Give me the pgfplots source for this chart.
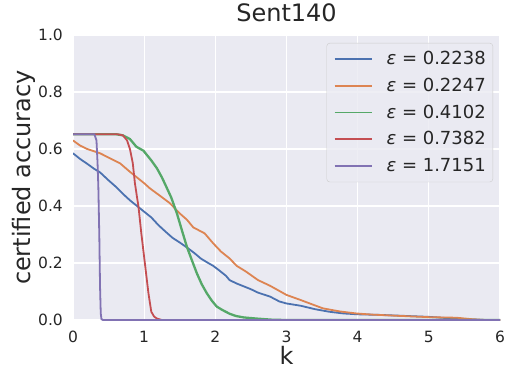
\documentclass[border=0pt]{standalone}
\usepackage{fontspec}
\setmainfont{DejaVu Sans}
\usepackage{pgfplots}
\pgfplotsset{compat=1.18}
\definecolor{bgcol}{HTML}{EAEAF2}
\definecolor{txtcol}{HTML}{262626}
\definecolor{framecol}{HTML}{CCCCCC}
\definecolor{sblue}{HTML}{4C72B0}
\definecolor{sorange}{HTML}{DD8452}
\definecolor{sgreen}{HTML}{55A868}
\definecolor{sred}{HTML}{C44E52}
\definecolor{spurple}{HTML}{8172B3}
\begin{document}
\begin{tikzpicture}
\begin{axis}[
  name=ax, scale only axis, width=427bp, height=285bp,
  xmin=0, xmax=6, ymin=0, ymax=1,
  xtick={0,1,2,3,4,5,6}, ytick={0,0.2,0.4,0.6,0.8,1.0},
  axis background/.style={fill=bgcol},
  axis line style={draw=none},
  major tick length=0pt,
  grid=major, major grid style={white, line width=1.3bp},
  /pgf/number format/assume math mode=true,
  ticklabel style={font=\fontsize{15.5bp}{18bp}\selectfont, text=txtcol, inner sep=0pt},
  xticklabel style={anchor=base, yshift=-22bp},
  yticklabel style={anchor=east, xshift=-10bp},
  yticklabel={\pgfmathprintnumber[fixed,fixed zerofill,precision=1]{\tick}},
  title={Sent140},
  title style={at={(axis description cs:0.5,1.028)}, anchor=base, inner sep=0pt,
    font=\fontsize{24bp}{28bp}\selectfont, text=txtcol},
  xlabel={k},
  xlabel style={at={(axis description cs:0.5,-0.157)}, anchor=base, inner sep=0pt,
    font=\fontsize{24bp}{28bp}\selectfont, text=txtcol},
  ylabel={certified accuracy},
  ylabel style={at={(axis description cs:-0.1007,0.5)}, anchor=base, inner sep=0pt,
    font=\fontsize{24bp}{28bp}\selectfont, text=txtcol},
  legend style={at={(axis description cs:0.9836,0.972)}, anchor=north east,
    draw=framecol, fill=bgcol, fill opacity=0.8, text opacity=1, draw opacity=1,
    rounded corners=3bp, font=\fontsize{18bp}{21bp}\selectfont, text=txtcol,
    inner xsep=7bp, inner ysep=8.5bp, row sep=11.7bp, column sep=14bp,
    nodes={inner sep=0pt, text height=13bp, text depth=2bp, anchor=west}},
  legend image code/.code={\draw[line width=1.8bp, #1] (0bp,0bp) -- (37bp,0bp);},
]
\addplot[color=sblue, line width=1.8bp] coordinates {(0,0.585)(0.1,0.565)(0.2,0.548)(0.3,0.53)(0.38,0.518)(0.5,0.49)(0.6,0.468)(0.7,0.443)(0.8,0.42)(0.9,0.40)(1.0,0.38)(1.1,0.36)(1.2,0.333)(1.3,0.31)(1.4,0.288)(1.5,0.272)(1.62,0.251)(1.7,0.236)(1.8,0.215)(1.9,0.2)(1.97,0.19)(2.05,0.175)(2.15,0.155)(2.2,0.14)(2.3,0.128)(2.4,0.118)(2.5,0.108)(2.6,0.096)(2.77,0.082)(2.9,0.065)(3.0,0.058)(3.2,0.05)(3.4,0.038)(3.6,0.029)(3.8,0.023)(4.0,0.02)(4.3,0.018)(4.6,0.015)(5.0,0.011)(5.3,0.006)(5.6,0.002)(5.8,0)(6,0)};
\addlegendentry{\textit{ε} = 0.2238}
\addplot[color=sorange, line width=1.8bp] coordinates {(0,0.63)(0.1,0.612)(0.2,0.6)(0.38,0.585)(0.5,0.57)(0.66,0.55)(0.8,0.52)(0.9,0.5)(1.0,0.48)(1.08,0.462)(1.2,0.44)(1.36,0.41)(1.5,0.374)(1.6,0.352)(1.69,0.325)(1.85,0.304)(1.97,0.269)(2.08,0.24)(2.2,0.216)(2.3,0.19)(2.43,0.17)(2.6,0.14)(2.77,0.12)(3.0,0.088)(3.2,0.07)(3.51,0.041)(3.75,0.03)(3.98,0.023)(4.2,0.019)(4.54,0.015)(5.0,0.01)(5.39,0.008)(5.6,0.003)(5.8,0)(6,0)};
\addlegendentry{\textit{ε} = 0.2247}
\addplot[color=sgreen, line width=2.3bp] coordinates {(0,0.652)(0.6,0.652)(0.7,0.648)(0.8,0.635)(0.89,0.608)(0.99,0.594)(1.1,0.56)(1.18,0.532)(1.25,0.5)(1.31,0.468)(1.38,0.43)(1.46,0.374)(1.53,0.315)(1.6,0.257)(1.67,0.21)(1.74,0.164)(1.81,0.125)(1.88,0.094)(1.95,0.068)(2.02,0.047)(2.1,0.035)(2.2,0.022)(2.29,0.014)(2.4,0.009)(2.58,0.005)(2.8,0.001)(3,0)(6,0)};
\addlegendentry{\textit{ε} = 0.4102}
\addplot[color=sred, line width=1.8bp] coordinates {(0,0.652)(0.62,0.652)(0.7,0.648)(0.76,0.63)(0.8,0.6)(0.84,0.55)(0.87,0.48)(0.9,0.43)(0.92,0.398)(0.96,0.304)(1.01,0.199)(1.06,0.094)(1.1,0.029)(1.14,0.012)(1.18,0.005)(1.25,0)(6,0)};
\addlegendentry{\textit{ε} = 0.7382}
\addplot[color=spurple, line width=1.8bp] coordinates {(0,0.652)(0.3,0.652)(0.33,0.63)(0.345,0.55)(0.356,0.468)(0.37,0.29)(0.38,0.117)(0.39,0.023)(0.4,0.003)(0.42,0)(6,0)};
\addlegendentry{\textit{ε} = 1.7151}
\end{axis}
\pgfresetboundingbox
\path ([shift={(-73bp,-51bp)}]ax.south west) rectangle ([shift={(6bp,35bp)}]ax.north east);
\end{tikzpicture}
\end{document}
